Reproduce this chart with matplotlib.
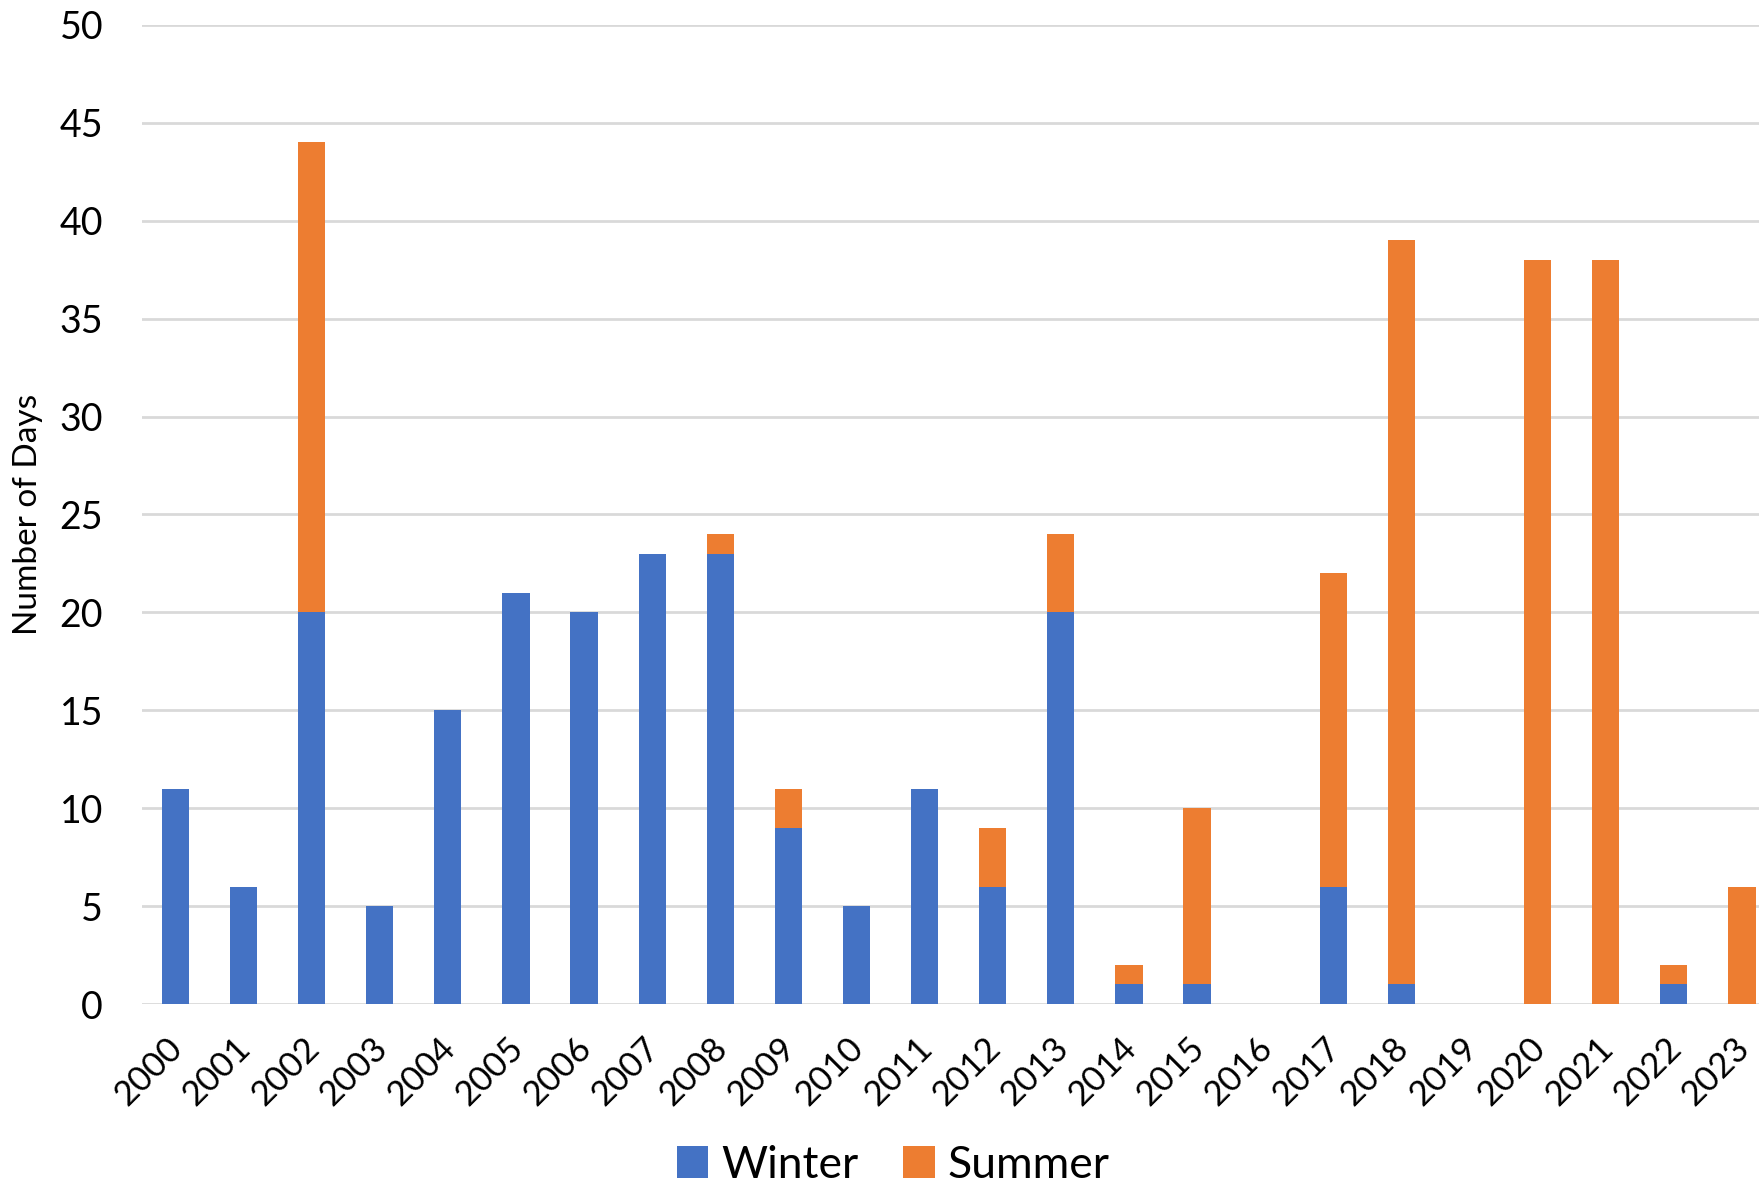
import matplotlib
matplotlib.use("Agg")
import matplotlib.pyplot as plt
import matplotlib.transforms as mtransforms
import numpy as np

years = [str(y) for y in range(2000, 2024)]
winter = [11, 6, 20, 5, 15, 21, 20, 23, 23, 9, 5, 11, 6, 20, 1, 1, 0, 6, 1, 0, 0, 0, 1, 0]
summer = [0, 0, 24, 0, 0, 0, 0, 0, 1, 2, 0, 0, 3, 4, 1, 9, 0, 16, 38, 0, 38, 38, 1, 6]

plt.rcParams['font.family'] = ['Lato', 'DejaVu Sans']

fig = plt.figure(figsize=(17.59, 11.9), dpi=100)
ax = fig.add_axes([0.0807, 0.1563, 0.9193, 0.8227])

x = np.arange(len(years))
w = 0.40
ax.bar(x, winter, width=w, color='#4472C4', label='Winter', zorder=3)
ax.bar(x, summer, width=w, bottom=winter, color='#ED7D31', label='Summer', zorder=3)

ax.set_ylim(0, 50)
ax.set_xlim(-0.49, 23.25)
ax.set_yticks(range(0, 51, 5))
ax.yaxis.grid(True, color='#D9D9D9', linewidth=2, zorder=0)
ax.set_axisbelow(True)
for s in ax.spines.values():
    s.set_visible(False)
ax.tick_params(axis='both', length=0)
ax.tick_params(axis='y', labelsize=27, pad=28)
ax.set_xticks(x)
ax.set_xticklabels(years, rotation=45, ha='right', rotation_mode='anchor', fontsize=25)
ax.tick_params(axis='x', pad=20)
offset = mtransforms.ScaledTranslation(-0.09, 0, fig.dpi_scale_trans)
for lbl in ax.get_xticklabels():
    lbl.set_transform(lbl.get_transform() + offset)
ax.set_ylabel('Number of Days', fontsize=24, labelpad=12)

handles, labels = ax.get_legend_handles_labels()
fig.legend(handles, labels, loc='center', bbox_to_anchor=(0.508, 0.021), ncol=2,
           frameon=False, fontsize=32, handlelength=0.7, handleheight=0.7,
           handletextpad=0.3, columnspacing=1.0)

fig.savefig('out.png', dpi=100)
